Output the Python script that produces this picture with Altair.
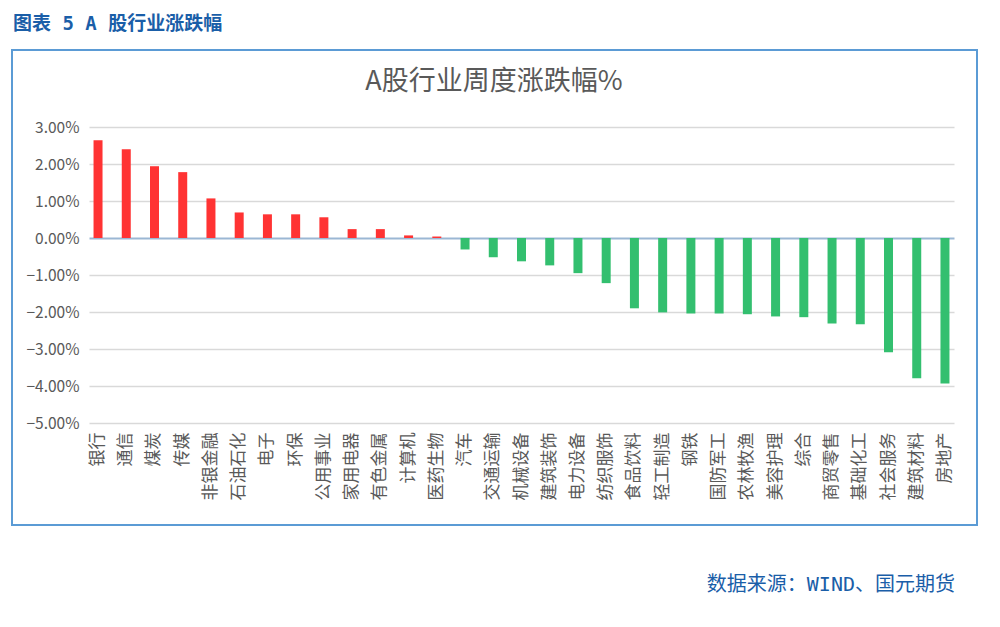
import altair as alt
import pandas as pd

industries = ["银行", "通信", "煤炭", "传媒", "非银金融", "石油石化", "电子", "环保", "公用事业",
              "家用电器", "有色金属", "计算机", "医药生物", "汽车", "交通运输", "机械设备", "建筑装饰",
              "电力设备", "纺织服饰", "食品饮料", "轻工制造", "钢铁", "国防军工", "农林牧渔", "美容护理",
              "综合", "商贸零售", "基础化工", "社会服务", "建筑材料", "房地产"]
changes = [2.64, 2.40, 1.94, 1.78, 1.07, 0.69, 0.64, 0.64, 0.56,
           0.24, 0.24, 0.07, 0.04, -0.31, -0.52, -0.63, -0.74,
           -0.95, -1.22, -1.90, -2.01, -2.04, -2.04, -2.06, -2.12,
           -2.14, -2.31, -2.33, -3.09, -3.79, -3.93]
y_ticks = [-5, -4, -3, -2, -1, 0, 1, 2, 3]

df = pd.DataFrame({"industry": industries, "change": changes})
df["sign"] = ["up" if v >= 0 else "down" for v in changes]

FONT = "Noto Sans CJK SC"
MONO = "DejaVu Sans Mono, Noto Sans CJK SC"
GRAY = "#595959"
BLUE = "#1a5ea8"

base = alt.Chart(df)

bars = base.mark_bar(size=9).encode(
    x=alt.X("industry:N", sort=industries, title=None,
            scale=alt.Scale(paddingInner=0.68, paddingOuter=0.16),
            axis=alt.Axis(labelAngle=-90, labelFontSize=17, labelColor=GRAY,
                          labelFont=FONT, labelPadding=9, labelAlign="right",
                          labelBaseline="middle", labelOverlap=False,
                          ticks=False, domain=False, grid=False)),
    y=alt.Y("change:Q", title=None,
            scale=alt.Scale(domain=[-5, 3], nice=False, zero=False),
            axis=alt.Axis(values=y_ticks, tickCount=9,
                          labelExpr="format(datum.value, '.2f') + '%'",
                          labelFontSize=15.5, labelColor=GRAY, labelFont=FONT,
                          labelOverlap=False, labelFlush=False,
                          labelPadding=10, ticks=False, domain=False,
                          gridColor={"condition": {"test": "datum.value === 0", "value": "#9bb7d4"},
                                     "value": "#d9d9d9"},
                          gridWidth={"condition": {"test": "datum.value === 0", "value": 2},
                                     "value": 1.5})),
    color=alt.Color("sign:N", scale=alt.Scale(domain=["up", "down"], range=["#ff3333", "#33bf6f"]),
                    legend=None),
)

box = alt.Chart(pd.DataFrame({"a": [0]})).mark_rect(
    fillOpacity=0, stroke="#5b9bd5", strokeWidth=2
).encode(x=alt.value(-77), x2=alt.value(888), y=alt.value(-77), y2=alt.value(398))

title = alt.Chart(pd.DataFrame({"t": ["A股行业周度涨跌幅%"]})).mark_text(
    font=FONT, fontSize=27, color=GRAY, align="center", baseline="middle"
).encode(text="t:N", x=alt.value(405), y=alt.value(-45))

header = alt.Chart(pd.DataFrame({"t": ["图表 5 A 股行业涨跌幅"]})).mark_text(
    font=MONO, fontSize=19, color=BLUE, align="left", baseline="middle", fontWeight="bold"
).encode(text="t:N", x=alt.value(-76), y=alt.value(-103))

footer = alt.Chart(pd.DataFrame({"t": ["数据来源：WIND、国元期货"]})).mark_text(
    font=MONO, fontSize=20, color=BLUE, align="right", baseline="middle"
).encode(text="t:N", x=alt.value(866), y=alt.value(458))

chart = alt.layer(box, bars, title, header, footer).properties(
    width=865, height=296,
    autosize=alt.AutoSizeParams(type="none"),
    padding={"left": 81, "top": 119, "right": 30, "bottom": 190},
).configure_view(stroke=None).configure_axis(labelOverlap=False)

chart.save("out.html", embed_options={"renderer": "svg", "actions": False})
